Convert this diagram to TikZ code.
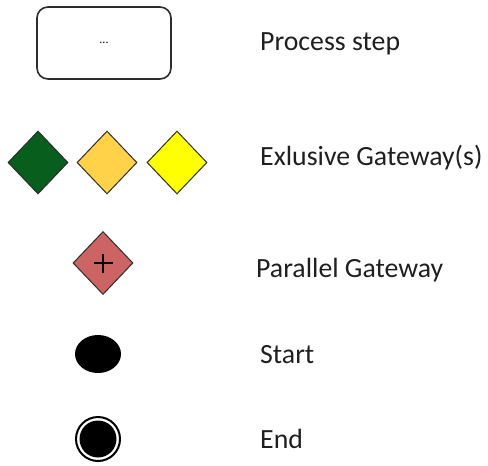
\documentclass[tikz,border=0pt]{standalone}
\usepackage{fontspec}
\setmainfont{Carlito}
\usetikzlibrary{shapes.geometric}
\definecolor{gwgreen}{RGB}{8,94,28}
\definecolor{gworange}{RGB}{255,210,74}
\definecolor{gwyellow}{RGB}{255,255,0}
\definecolor{gwred}{RGB}{204,100,100}
\definecolor{edge}{RGB}{45,45,45}
\begin{document}
\begin{tikzpicture}[x=1pt,y=-1pt,
  stepbox/.style={draw=edge,line width=1.6pt,rounded corners=11pt,fill=white,
    minimum width=134pt,minimum height=72pt,inner sep=0pt,font=\fontsize{12}{13}\selectfont},
  gateway/.style={diamond,draw=edge,line width=1pt,minimum width=60pt,minimum height=63pt,
    inner sep=0pt,aspect=0.95},
  legendtext/.style={anchor=base west,inner sep=0pt,font=\fontsize{27.8}{32}\selectfont,text=black!88}]
\useasboundingbox (0,0) rectangle (488,466);
% process step
\node[stepbox] (step) at (104,43) {...};
\node[legendtext] (tstep) at (260,50) {Process step};
% exclusive gateways
\node[gateway,fill=gwgreen] (gx1) at (38,162.5) {};
\node[gateway,fill=gworange] (gx2) at (107,162.5) {};
\node[gateway,fill=gwyellow] (gx3) at (177,162.5) {};
\node[legendtext] (tgx) at (260,165) {Exlusive Gateway(s)};
% parallel gateway
\node[gateway,fill=gwred] (gp) at (103,263) {};
\draw[line width=1.6pt] ([xshift=-9.5pt]gp.center) -- ([xshift=9.5pt]gp.center)
  ([yshift=-9.5pt]gp.center) -- ([yshift=9.5pt]gp.center);
\node[legendtext] (tgp) at (256,277) {Parallel Gateway};
% start event
\node[ellipse,fill=black,minimum width=46pt,minimum height=38pt,inner sep=0pt] (start) at (98,354) {};
\node[legendtext] (tstart) at (260,363) {Start};
% end event
\node[circle,draw=black,line width=2pt,minimum size=44pt,inner sep=0pt] (end) at (98,439) {};
\fill[black] (end.center) circle (18.5pt);
\node[legendtext] (tend) at (260,448) {End};
\end{tikzpicture}
\end{document}
